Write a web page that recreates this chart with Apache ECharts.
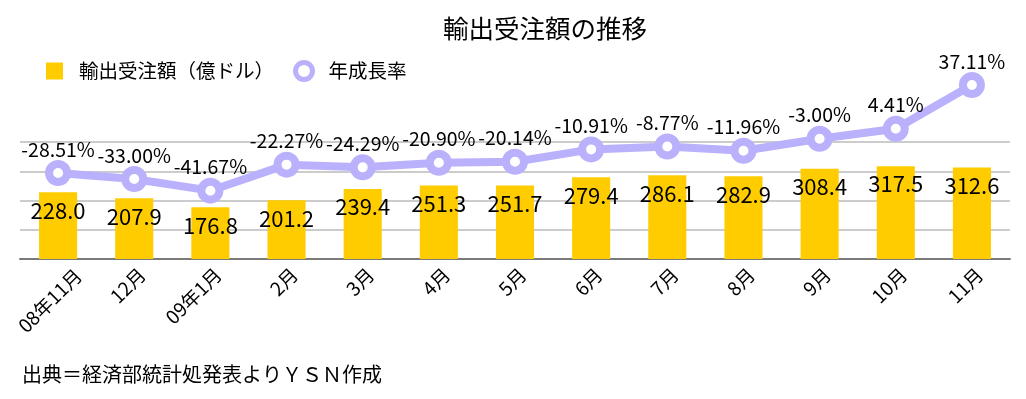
<!DOCTYPE html>
<html>
<head>
<meta charset="utf-8">
<title>輸出受注額の推移</title>
<script src="https://cdn.jsdelivr.net/npm/echarts@6/dist/echarts.min.js"></script>
<style>
  html, body { margin: 0; padding: 0; background: #fff; }
  #main { width: 1026px; height: 399px; }
</style>
</head>
<body>
<div id="main"></div>
<script>
// 月
var months = ['08年11月', '12月', '09年1月', '2月', '3月', '4月', '5月', '6月', '7月', '8月', '9月', '10月', '11月'];
// 輸出受注額（億ドル）
var orders = [228.0, 207.9, 176.8, 201.2, 239.4, 251.3, 251.7, 279.4, 286.1, 282.9, 308.4, 317.5, 312.6];
// 年成長率（%）
var growth = [-28.51, -33.00, -41.67, -22.27, -24.29, -20.90, -20.14, -10.91, -8.77, -11.96, -3.00, 4.41, 37.11];

var font = '"Noto Sans CJK JP", "Noto Sans", sans-serif';
var barColor = '#ffcc00';
var lineColor = '#bab1fc';

var chart = echarts.init(document.getElementById('main'));

// 先頭ラベルは左端からはみ出さないよう右へずらす
var axisData = months.map(function (m, i) {
    if (i === 0) {
        return { value: m, textStyle: { verticalAlign: 'top', padding: [0, -19, 0, 0] } };
    }
    return m;
});

var option = {
    animation: false,
    backgroundColor: '#fff',
    textStyle: { fontFamily: font, color: '#000' },
    title: [{
        text: '輸出受注額の推移',
        left: 443,
        top: 16,
        padding: 0,
        textStyle: { fontFamily: font, fontSize: 25.5, fontWeight: 'normal', color: '#000' }
    }, {
        text: '出典＝経済部統計処発表よりＹＳＮ作成',
        left: 22,
        top: 364,
        padding: 0,
        textStyle: { fontFamily: font, fontSize: 20, fontWeight: 'normal', color: '#000' }
    }],
    legend: {
        left: 46,
        top: 60,
        padding: 0,
        itemWidth: 17,
        itemHeight: 17,
        itemGap: 19,
        textStyle: { fontFamily: font, fontSize: 19.5, color: '#000', padding: [0, 0, 0, 11] },
        data: [
            { name: '輸出受注額（億ドル）', icon: 'rect' },
            { name: '年成長率', icon: 'circle', itemStyle: { color: '#fff', borderColor: lineColor, borderWidth: 5 } }
        ]
    },
    grid: { left: 20, right: 16, top: 142, bottom: 140 },
    xAxis: {
        type: 'category',
        data: axisData,
        axisLine: { lineStyle: { color: '#7a7a7a', width: 2 } },
        axisTick: { show: false },
        axisLabel: {
            rotate: 45, fontSize: 19, margin: 20, color: '#000', fontFamily: font, interval: 0,
            padding: [0, -11, 0, 0]
        }
    },
    yAxis: [{
        type: 'value',
        min: 0,
        max: 400,
        interval: 100,
        axisLabel: { show: false },
        axisLine: { show: false },
        axisTick: { show: false },
        splitLine: { lineStyle: { color: '#cccccc', width: 2 } }
    }, {
        type: 'value',
        min: -92.6,
        max: -5.4,
        axisLabel: { show: false },
        axisLine: { show: false },
        axisTick: { show: false },
        splitLine: { show: false }
    }],
    series: [{
        name: '輸出受注額（億ドル）',
        type: 'bar',
        data: orders,
        barWidth: '50%',
        itemStyle: { color: barColor },
        label: {
            show: true,
            position: 'insideTop',
            distance: 7,
            fontSize: 22,
            fontFamily: font,
            color: '#000',
            formatter: function (p) { return p.value.toFixed(1); }
        }
    }, {
        name: '年成長率',
        type: 'line',
        yAxisIndex: 1,
        data: growth,
        clip: false,
        z: 5,
        symbol: 'circle',
        symbolSize: 18,
        lineStyle: { color: lineColor, width: 8 },
        itemStyle: { color: '#fff', borderColor: lineColor, borderWidth: 8 },
        label: {
            show: true,
            position: 'top',
            distance: 1,
            fontSize: 19.5,
            fontFamily: font,
            color: '#000',
            formatter: function (p) { return p.value.toFixed(2) + '%'; }
        }
    }]
};

chart.setOption(option);
</script>
</body>
</html>
